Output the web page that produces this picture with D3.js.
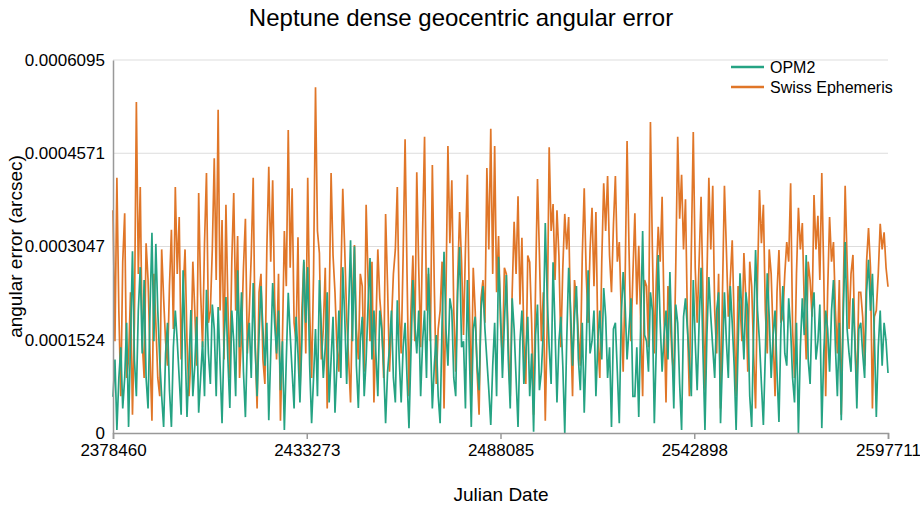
<!DOCTYPE html>
<html>
<head>
<meta charset="utf-8">
<script src="https://cdn.jsdelivr.net/npm/d3@7"></script>
<style>
  body { margin: 0; background: #fff; }
  svg { font-family: "Liberation Sans", Arial, sans-serif; }
</style>
</head>
<body>
<div id="chart"></div>
<script>
// julian date range of the samples (evenly spaced)
var jdStart = 2378460,
    jdEnd = 2597711;

var xTicks = [2378460, 2433273, 2488085, 2542898, 2597711];
var yTicks = [0, 0.0001524, 0.0003047, 0.0004571, 0.0006095];
var yTickLabels = ["0", "0.0001524", "0.0003047", "0.0004571", "0.0006095"];

var seriesNames = ["OPM2", "Swiss Ephemeris"];

// angular error, micro-arcsec
var opm2 = [
    59, 120, 5, 90, 140, 40, 90, 180, 10, 150, 297, 120, 60, 200, 271, 130, 250, 90, 40, 200,
    327, 150, 309, 200, 120, 60, 10, 130, 180, 70, 10, 140, 200, 150, 90, 30, 266, 150, 26, 110,
    201, 60, 110, 190, 33, 90, 150, 60, 234, 130, 80, 210, 170, 60, 206, 110, 16, 150, 222, 120,
    41, 200, 150, 60, 266, 140, 230, 100, 26, 150, 180, 90, 245, 140, 60, 160, 240, 170, 110, 180,
    21, 130, 245, 180, 130, 200, 70, 150, 5, 120, 229, 160, 100, 40, 190, 130, 50, 150, 283, 180,
    271, 110, 16, 90, 170, 60, 250, 170, 90, 140, 230, 50, 120, 190, 33, 110, 200, 90, 271, 190,
    80, 200, 315, 150, 305, 110, 41, 150, 190, 60, 120, 210, 286, 120, 200, 130, 60, 200, 170, 110,
    16, 100, 140, 200, 90, 50, 217, 120, 50, 140, 180, 90, 8, 130, 250, 180, 130, 200, 60, 150,
    200, 90, 270, 160, 40, 110, 160, 60, 16, 180, 296, 170, 110, 220, 200, 90, 60, 230, 304, 140,
    150, 40, 250, 130, 10, 170, 190, 110, 70, 200, 240, 170, 120, 70, 13, 110, 180, 60, 288, 200,
    90, 180, 258, 120, 40, 220, 170, 90, 10, 150, 200, 80, 130, 190, 60, 130, 2, 160, 210, 70,
    100, 170, 343, 220, 140, 80, 279, 170, 50, 150, 190, 110, 0, 150, 270, 200, 110, 190, 240, 120,
    70, 180, 33, 140, 266, 130, 150, 200, 60, 150, 200, 120, 237, 190, 90, 140, 10, 170, 180, 100,
    16, 190, 263, 210, 120, 170, 220, 60, 60, 140, 26, 180, 330, 160, 150, 100, 230, 200, 16, 140,
    291, 180, 100, 160, 200, 120, 263, 150, 40, 210, 180, 80, 5, 190, 220, 170, 120, 60, 250, 150,
    70, 180, 270, 130, 5, 160, 255, 190, 140, 90, 200, 230, 16, 120, 230, 150, 90, 240, 180, 110,
    5, 140, 261, 190, 120, 230, 200, 60, 10, 170, 299, 200, 150, 80, 13, 130, 261, 190, 90, 160,
    200, 100, 18, 170, 240, 130, 110, 220, 170, 90, 50, 180, 0, 140, 220, 160, 291, 120, 80, 200,
    230, 120, 150, 210, 8, 130, 200, 170, 100, 200, 250, 140, 60, 180, 21, 190, 312, 170, 130, 100,
    220, 150, 40, 170, 180, 130, 90, 230, 283, 200, 260, 160, 26, 140, 200, 110, 180, 150, 98
];

var swiss = [
    364, 150, 417, 200, 60, 280, 359, 90, 120, 230, 30, 180, 541, 260, 402, 150, 90, 310, 250, 130,
    20, 260, 180, 90, 60, 300, 220, 150, 110, 240, 332, 170, 402, 260, 353, 120, 230, 300, 150, 60,
    120, 280, 200, 110, 392, 230, 140, 310, 425, 180, 200, 300, 449, 250, 528, 200, 348, 120, 373, 210,
    90, 280, 392, 200, 322, 90, 160, 270, 350, 130, 200, 290, 417, 150, 40, 230, 260, 120, 80, 300,
    435, 280, 413, 220, 120, 260, 20, 150, 330, 240, 495, 270, 400, 180, 150, 320, 60, 200, 280, 130,
    417, 200, 90, 260, 565, 330, 294, 120, 170, 270, 40, 200, 425, 290, 230, 140, 100, 250, 399, 300,
    190, 120, 50, 220, 307, 170, 120, 260, 240, 100, 373, 250, 150, 280, 50, 170, 300, 220, 180, 90,
    358, 240, 100, 180, 260, 300, 402, 200, 130, 290, 480, 260, 60, 200, 290, 150, 426, 270, 140, 330,
    484, 200, 260, 150, 438, 240, 80, 170, 200, 280, 40, 230, 469, 310, 413, 200, 100, 250, 361, 280,
    160, 300, 422, 210, 60, 270, 200, 100, 30, 220, 250, 180, 433, 300, 497, 260, 469, 230, 322, 180,
    120, 270, 260, 150, 60, 230, 345, 260, 387, 210, 319, 150, 80, 290, 279, 180, 30, 240, 415, 290,
    150, 230, 20, 180, 467, 330, 374, 250, 364, 290, 140, 270, 358, 300, 353, 180, 60, 250, 220, 160,
    110, 290, 400, 260, 180, 300, 368, 240, 361, 150, 90, 280, 408, 330, 420, 290, 230, 340, 420, 280,
    312, 200, 100, 250, 477, 300, 150, 260, 359, 210, 306, 180, 60, 250, 240, 140, 508, 300, 130, 250,
    337, 280, 386, 190, 50, 240, 200, 130, 90, 270, 484, 350, 422, 300, 382, 180, 60, 300, 492, 270,
    180, 280, 386, 220, 70, 250, 417, 300, 404, 200, 130, 260, 40, 230, 404, 300, 190, 250, 315, 180,
    60, 240, 210, 150, 294, 220, 100, 280, 240, 130, 40, 250, 397, 310, 373, 200, 130, 300, 260, 160,
    60, 230, 299, 180, 190, 260, 312, 280, 408, 170, 90, 260, 368, 300, 343, 210, 120, 280, 250, 190,
    389, 300, 355, 250, 425, 260, 60, 230, 353, 280, 312, 200, 130, 250, 30, 220, 404, 280, 170, 260,
    291, 150, 70, 230, 230, 190, 110, 280, 335, 270, 40, 190, 200, 260, 342, 300, 328, 270, 239
];

var colors = ["#25a383", "#e07628"];

var width = 920, height = 520;
var margin = {top: 60, right: 32, bottom: 87, left: 113};

var svg = d3.select("#chart").append("svg")
    .attr("width", width)
    .attr("height", height);

var x = d3.scaleLinear().domain([jdStart, jdEnd]).range([margin.left, width - margin.right]);
var y = d3.scaleLinear().domain([0, 0.0006095]).range([height - margin.bottom, margin.top]);

function toPoints(vals) {
    var step = (jdEnd - jdStart) / (vals.length - 1);
    return vals.map(function(v, i) { return {jd: jdStart + i * step, err: v * 1e-6}; });
}

// grid
svg.append("g")
    .selectAll("line")
    .data(yTicks.slice(1))
    .enter().append("line")
    .attr("x1", margin.left)
    .attr("x2", width - margin.right)
    .attr("y1", function(d){ return y(d); })
    .attr("y2", function(d){ return y(d); })
    .attr("stroke", "#dddddd")
    .attr("stroke-width", 1);

var line = d3.line()
    .x(function(d){ return x(d.jd); })
    .y(function(d){ return y(d.err); });

svg.append("path").datum(toPoints(swiss))
    .attr("d", line)
    .attr("fill", "none")
    .attr("stroke", colors[1])
    .attr("stroke-width", 1.7);

svg.append("path").datum(toPoints(opm2))
    .attr("d", line)
    .attr("fill", "none")
    .attr("stroke", colors[0])
    .attr("stroke-width", 1.7);

// axes
var xAxis = svg.append("g")
    .attr("transform", "translate(0," + (height - margin.bottom) + ")")
    .call(d3.axisBottom(x).tickValues(xTicks).tickFormat(d3.format("d")).tickSize(6).tickPadding(5));
xAxis.select(".domain").attr("stroke", "#999").attr("stroke-width", 1.5);
xAxis.selectAll(".tick line").attr("stroke", "#999").attr("stroke-width", 1.5);
xAxis.selectAll(".tick text")
    .attr("font-size", 17)
    .attr("font-family", "Liberation Sans, Arial, sans-serif")
    .attr("fill", "#000");

var yAxis = svg.append("g")
    .attr("transform", "translate(" + margin.left + ",0)")
    .call(d3.axisLeft(y).tickValues(yTicks).tickFormat(function(d, i){ return yTickLabels[i]; }).tickSize(0).tickPadding(8));
yAxis.select(".domain").attr("stroke", "#999").attr("stroke-width", 1.5);
yAxis.selectAll(".tick text")
    .attr("font-size", 17)
    .attr("font-family", "Liberation Sans, Arial, sans-serif")
    .attr("fill", "#000");

// titles
svg.append("text")
    .attr("x", 461)
    .attr("y", 26)
    .attr("text-anchor", "middle")
    .attr("font-size", 24)
    .text("Neptune dense geocentric angular error");

svg.append("text")
    .attr("x", 501)
    .attr("y", 501)
    .attr("text-anchor", "middle")
    .attr("font-size", 19)
    .text("Julian Date");

svg.append("text")
    .attr("transform", "translate(22," + ((margin.top + height - margin.bottom) / 2) + ") rotate(-90)")
    .attr("text-anchor", "middle")
    .attr("font-size", 19)
    .text("angular error (arcsec)");

// legend
var legend = svg.append("g").attr("transform", "translate(731,67)");
seriesNames.forEach(function(name, i){
    var g = legend.append("g").attr("transform", "translate(0," + (i * 20) + ")");
    g.append("line")
        .attr("x1", 0).attr("x2", 33)
        .attr("y1", 0).attr("y2", 0)
        .attr("stroke", colors[i])
        .attr("stroke-width", 2.5);
    g.append("text")
        .attr("x", 39)
        .attr("y", 0)
        .attr("dy", "0.35em")
        .attr("font-size", 16)
        .text(name);
});
</script>
</body>
</html>
